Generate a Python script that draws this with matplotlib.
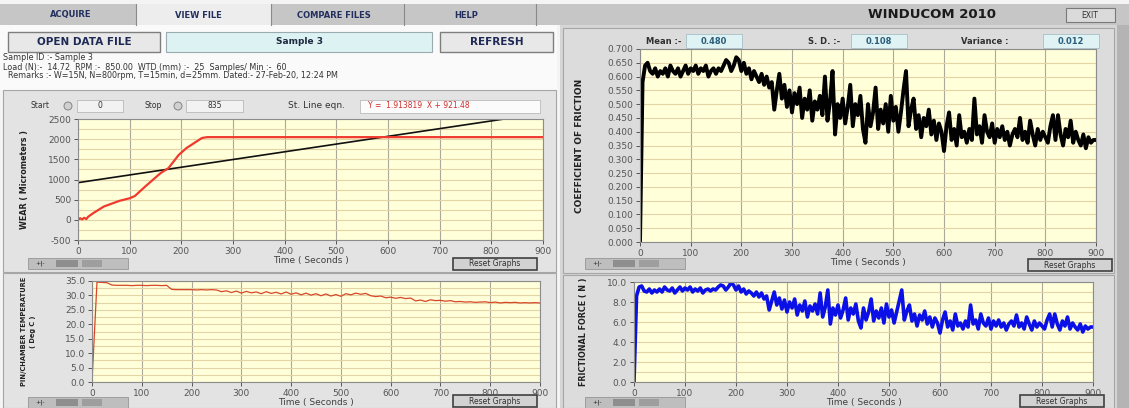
import numpy as np
import matplotlib.pyplot as plt
from matplotlib.patches import Rectangle, Circle
from matplotlib.ticker import MultipleLocator, FormatStrFormatter

W, H = 1129, 408

# ---------------- data ----------------
# wear (micrometers) vs time (s)
wear_time = [0, 4, 8, 12, 16, 20, 30, 50, 80, 100, 110, 130, 160, 175, 195, 210, 240, 250, 900]
wear = [0, 40, 10, 50, 20, 80, 170, 330, 470, 535, 590, 825, 1160, 1280, 1610, 1780, 2030, 2050, 2050]
# straight line fit shown on the wear graph (start 0 .. stop 835)
fit_time = [0, 835]
fit_wear = [921.48, 2519.5]

# pin / chamber temperature (deg C), one value every 10 s
temp_time = np.arange(0, 901, 10)
temperature = [
    0.0, 34.6, 34.5, 34.4, 33.6, 33.5, 33.5, 33.5, 33.4, 33.5,
    33.5, 33.4, 33.5, 33.5, 33.4, 33.5, 32.1, 32.0, 32.0, 32.0,
    32.0, 31.9, 32.0, 31.9, 32.0, 31.9, 31.3, 31.6, 31.0, 31.5,
    30.8, 31.4, 30.9, 31.2, 30.6, 31.3, 30.7, 31.1, 30.5, 31.2,
    30.4, 30.9, 30.2, 30.8, 30.1, 30.6, 29.9, 30.5, 29.8, 30.3,
    29.7, 30.6, 30.2, 30.8, 30.4, 30.7, 29.9, 29.6, 29.8, 29.2,
    29.4, 29.0, 29.3, 28.9, 29.1, 28.1, 28.4, 27.9, 28.5, 28.2,
    28.3, 28.0, 28.2, 27.8, 27.9, 27.7, 27.8, 27.6, 27.7, 27.8,
    27.5, 27.7, 27.4, 27.6, 27.5, 27.6, 27.4, 27.5, 27.4, 27.5,
    27.4,
]

# coefficient of friction and frictional force (N), one value every 5 s
cof_time = np.arange(0, 901, 5)
cof = [
    0.00, 0.58, 0.64, 0.65, 0.62, 0.61, 0.63, 0.60, 0.62, 0.61,
    0.63, 0.60, 0.64, 0.62, 0.61, 0.63, 0.60, 0.62, 0.64, 0.61,
    0.63, 0.62, 0.64, 0.61, 0.63, 0.62, 0.64, 0.60, 0.62, 0.63,
    0.61, 0.63, 0.62, 0.64, 0.66, 0.65, 0.62, 0.64, 0.67, 0.66,
    0.62, 0.65, 0.61, 0.63, 0.59, 0.62, 0.60, 0.58, 0.61, 0.57,
    0.60, 0.56, 0.58, 0.48, 0.55, 0.61, 0.52, 0.57, 0.49, 0.55,
    0.47, 0.54, 0.50, 0.56, 0.45, 0.52, 0.48, 0.55, 0.44, 0.51,
    0.48, 0.53, 0.46, 0.60, 0.44, 0.51, 0.62, 0.39, 0.50, 0.45,
    0.52, 0.43, 0.49, 0.57, 0.42, 0.50, 0.46, 0.53, 0.41, 0.36,
    0.50, 0.42, 0.47, 0.56, 0.41, 0.48, 0.43, 0.50, 0.40, 0.53,
    0.44, 0.49, 0.40, 0.47, 0.55, 0.62, 0.42, 0.48, 0.52, 0.41,
    0.46, 0.38, 0.45, 0.42, 0.48, 0.39, 0.44, 0.37, 0.43, 0.40,
    0.33, 0.42, 0.47, 0.37, 0.41, 0.35, 0.46, 0.38, 0.40, 0.36,
    0.41, 0.37, 0.52, 0.39, 0.42, 0.36, 0.46, 0.40, 0.38, 0.43,
    0.36, 0.41, 0.38, 0.42, 0.37, 0.40, 0.35, 0.39, 0.41, 0.38,
    0.45, 0.37, 0.40, 0.36, 0.44, 0.39, 0.35, 0.41, 0.37, 0.40,
    0.38, 0.36, 0.42, 0.46, 0.37, 0.46, 0.39, 0.35, 0.41, 0.38,
    0.44, 0.36, 0.40, 0.37, 0.35, 0.39, 0.34, 0.38, 0.36, 0.37,
    0.37,
]
force = [
    0.0, 8.6, 9.5, 9.6, 9.1, 9.0, 9.3, 8.9, 9.2, 9.0,
    9.3, 9.0, 9.5, 9.2, 9.1, 9.4, 8.9, 9.2, 9.5, 9.1,
    9.4, 9.2, 9.5, 9.0, 9.3, 9.1, 9.4, 8.9, 9.2, 9.3,
    9.1, 9.3, 9.2, 9.5, 9.7, 9.6, 9.2, 9.5, 9.9, 9.7,
    9.2, 9.6, 9.0, 9.3, 8.8, 9.1, 8.9, 8.6, 9.0, 8.5,
    8.9, 8.3, 8.6, 7.2, 8.1, 9.0, 7.7, 8.4, 7.3, 8.2,
    7.0, 8.0, 7.4, 8.3, 6.7, 7.7, 7.1, 8.1, 6.5, 7.6,
    7.1, 7.8, 6.8, 8.9, 6.5, 7.5, 9.2, 5.8, 7.4, 6.7,
    7.7, 6.4, 7.2, 8.4, 6.2, 7.4, 6.8, 7.8, 6.1, 5.4,
    7.4, 6.2, 7.0, 8.3, 6.1, 7.1, 6.4, 7.4, 5.9, 7.8,
    6.5, 7.2, 5.9, 7.0, 8.1, 9.2, 6.2, 7.1, 7.7, 6.1,
    6.8, 5.6, 6.7, 6.2, 7.1, 5.8, 6.5, 5.5, 6.4, 5.9,
    4.9, 6.2, 7.0, 5.5, 6.1, 5.2, 6.8, 5.6, 5.9, 5.3,
    6.1, 5.5, 7.7, 5.8, 6.2, 5.3, 6.8, 5.9, 5.6, 6.4,
    5.3, 6.1, 5.6, 6.2, 5.5, 5.9, 5.2, 5.8, 6.1, 5.6,
    6.7, 5.5, 5.9, 5.3, 6.5, 5.8, 5.2, 6.1, 5.5, 5.9,
    5.6, 5.3, 6.2, 6.8, 5.5, 6.8, 5.8, 5.2, 6.1, 5.6,
    6.5, 5.3, 5.9, 5.5, 5.2, 5.8, 5.0, 5.6, 5.3, 5.5,
    5.5,
]

tabs = ["ACQUIRE", "VIEW FILE", "COMPARE FILES", "HELP"]
info_lines = [
    "Sample ID :- Sample 3",
    "Load (N):-  14.72  RPM :-  850.00  WTD (mm) :-  25  Samples/ Min :-  60",
    "  Remarks :- W=15N, N=800rpm, T=15min, d=25mm. Dated:- 27-Feb-20, 12:24 PM",
]
stats = [("Mean :-", "0.480"), ("S. D. :-", "0.108"), ("Variance :", "0.012")]

# ---------------- window background (pixel coordinates) ----------------
fig = plt.figure(figsize=(W / 100, H / 100), dpi=100)
fig.patch.set_facecolor("#F4F4F4")
bg = fig.add_axes([0, 0, 1, 1])
bg.set_xlim(0, W)
bg.set_ylim(H, 0)
bg.axis("off")


def box(x0, y0, x1, y1, fc, ec="none", lw=0.8):
    bg.add_patch(Rectangle((x0, y0), x1 - x0, y1 - y0, facecolor=fc, edgecolor=ec, linewidth=lw))


def label(x, y, s, size=6, color="#303030", ha="center", weight="normal"):
    bg.text(x, y, s, fontsize=size, color=color, ha=ha, va="center", fontweight=weight)


# tab strip
box(0, 4, W, 25, "#C6C6C6")
box(136, 4, 271, 25, "#EDEDED")
for sx in [136, 271, 404, 536]:
    bg.plot([sx, sx], [4, 25], color="#8A8A8A", lw=0.8)
for tx, t in zip([71, 198, 334, 466], tabs):
    label(tx, 15, t, size=6, color="#23305F", weight="bold")
label(932, 14, "WINDUCOM 2010", size=9.5, color="#1A1A1A", weight="bold")
box(1066, 8, 1115, 22, "#DADADA", ec="#7A7A7A")
label(1090, 15, "EXIT", size=5.5, color="#303030")

# info area (left)
box(0, 25, 557, 90, "#FAFAFA")
box(8, 32, 160, 52, "#E8E8E8", ec="#7E7E7E", lw=1.0)
label(84, 42, "OPEN DATA FILE", size=7.5, color="#1E2A55", weight="bold")
box(166, 32, 432, 52, "#DDF2F3", ec="#9AAAB0")
label(300, 42, "Sample 3", size=6.5, color="#1E2A40", weight="bold")
box(440, 32, 553, 52, "#E8E8E8", ec="#7E7E7E", lw=1.0)
label(497, 42, "REFRESH", size=7.5, color="#1E2A55", weight="bold")
for i, line in enumerate(info_lines):
    label(3, 58 + 9 * i, line, size=5.8, color="#333333", ha="left")

# graph frames
box(3, 90, 556, 272, "#E3E3E3", ec="#A6A6A6")
box(3, 273, 556, 408, "#E3E3E3", ec="#A6A6A6")
box(560, 25, 1117, 408, "#D5D5D5")
box(563, 28, 1114, 273, "#DCDCDC", ec="#A6A6A6")
box(563, 275, 1114, 408, "#DCDCDC", ec="#A6A6A6")
box(1117, 25, 1129, 408, "#B4B4B4")

# start / stop / line equation row
label(40, 106, "Start", size=5.5)
bg.add_patch(Circle((68, 106), 4, facecolor="#D0D0D0", edgecolor="#777777", lw=0.6))
box(77, 100, 123, 112, "#F2F2F2", ec="#B0B0B0", lw=0.5)
label(100, 106, "0", size=5.5)
label(153, 106, "Stop", size=5.5)
bg.add_patch(Circle((178, 106), 4, facecolor="#D0D0D0", edgecolor="#777777", lw=0.6))
box(186, 100, 243, 112, "#F2F2F2", ec="#B0B0B0", lw=0.5)
label(215, 106, "835", size=5.5)
label(317, 106, "St. Line eqn.", size=6.5, color="#333333")
box(360, 100, 540, 113, "#FBFBFB", ec="#B0B0B0", lw=0.5)
label(368, 106, "Y =  1.913819  X + 921.48", size=5.5, color="#D03030", ha="left")

# statistics row (right)
for (name, val), lx, fx in zip(stats, [664, 824, 985], [686, 851, 1043]):
    label(lx, 41, name, size=6, color="#303030", weight="bold")
    box(fx, 34, fx + 56, 48, "#DFF2F4", ec="#A8C0C8", lw=0.6)
    label(fx + 28, 41, val, size=6, color="#2A5E7A", weight="bold")

# graph palettes and reset buttons
for (px, py) in [(28, 258), (28, 397), (585, 258), (585, 397)]:
    box(px, py, px + 100, py + 11, "#BEBEBE", ec="#8A8A8A", lw=0.5)
    box(px + 28, py + 2, px + 50, py + 9, "#8E8E8E")
    box(px + 54, py + 2, px + 74, py + 9, "#9E9E9E")
    label(px + 12, py + 5.5, "+|-", size=4.5, color="#202020")
for (rx, ry) in [(453, 258), (453, 395), (1028, 259), (1020, 395)]:
    box(rx, ry, rx + 84, ry + 12, "#D2D2D2", ec="#404040", lw=1.2)
    label(rx + 42, ry + 6, "Reset Graphs", size=5.5, color="#303030")


# ---------------- graphs ----------------
def graph(px, ylim, ymaj, ymin, yfmt, ylabel, label_x, label_size=6.5):
    x0, y0, x1, y1 = px
    ax = fig.add_axes([x0 / W, 1 - y1 / H, (x1 - x0) / W, (y1 - y0) / H])
    ax.set_facecolor("#FFFFDA")
    ax.set_xlim(0, 900)
    ax.set_ylim(*ylim)
    ax.xaxis.set_major_locator(MultipleLocator(100))
    ax.yaxis.set_major_locator(MultipleLocator(ymaj))
    ax.yaxis.set_minor_locator(MultipleLocator(ymin))
    ax.yaxis.set_major_formatter(FormatStrFormatter(yfmt))
    ax.grid(True, axis="x", which="major", color="#AAA99B", lw=0.8)
    ax.grid(True, axis="y", which="both", color="#E2D4A4", lw=0.8)
    ax.set_axisbelow(True)
    ax.tick_params(labelsize=6.5, colors="#555555", length=3, width=0.7, pad=2)
    ax.tick_params(which="minor", length=0)
    for s in ax.spines.values():
        s.set_color("#8C8C8C")
        s.set_linewidth(0.8)
    ax.set_xlabel("Time ( Seconds )", fontsize=6.5, color="#404040", labelpad=0)
    ax.set_ylabel(ylabel, fontsize=label_size, color="#202020", fontweight="bold", linespacing=1.5)
    ax.yaxis.set_label_coords((label_x - x0) / (x1 - x0), 0.5)
    return ax


ax_wear = graph((78, 119, 543, 240), (-500, 2500), 500, 250, "%d", "WEAR ( Micrometers )", 29, 5.8)
ax_wear.plot(fit_time, fit_wear, color="#101010", lw=1.2)
ax_wear.plot(wear_time, wear, color="#F03A2E", lw=1.6)

ax_temp = graph((92, 281, 540, 382), (0, 35), 5, 2.5, "%.1f",
                "PIN/CHAMBER TEMPERATURE\n( Deg C )", 36, 4.8)
ax_temp.plot(temp_time, temperature, color="#D8472A", lw=0.9)

ax_cof = graph((640, 49, 1096, 242), (0, 0.7), 0.05, 0.05, "%.3f", "COEFFICIENT OF FRICTION", 584, 6.5)
ax_cof.plot(cof_time, cof, color="#000000", lw=2.8)

ax_force = graph((634, 282, 1093, 382), (0, 10), 2, 1, "%.1f", "FRICTIONAL FORCE ( N )", 588, 5.8)
ax_force.plot(cof_time, force, color="#0A10E6", lw=2.6)

fig.savefig("out.png", dpi=100)
